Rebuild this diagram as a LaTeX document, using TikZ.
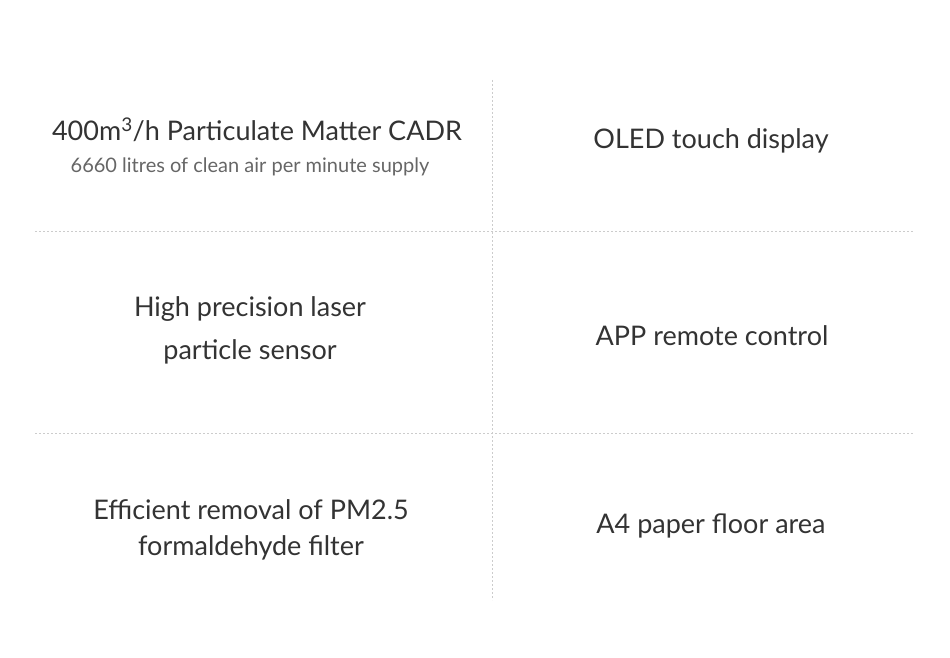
\documentclass[tikz,border=0pt]{standalone}
\usepackage{fontspec}
\setmainfont{Lato}
\begin{document}
\begin{tikzpicture}[x=1pt,y=-1pt,
  big/.style={text=black!80,font=\fontsize{27}{32}\selectfont,anchor=center,inner sep=0},
  small/.style={text=black!60,font=\fontsize{20}{24}\selectfont,anchor=center,inner sep=0},
  grid/.style={draw=black!20,dashed,dash pattern=on 2pt off 2pt,line width=0.8pt}]
\useasboundingbox (0,0) rectangle (950,658);
\coordinate (vt) at (492,80); \coordinate (vb) at (492,600);
\coordinate (h1l) at (35,231); \coordinate (h1r) at (913,231);
\coordinate (h2l) at (35,433); \coordinate (h2r) at (913,433);
\draw[grid] (vt) -- (vb);
\draw[grid] (h1l) -- (h1r);
\draw[grid] (h2l) -- (h2r);
\node[big] (a) at (257,130) {400m\textsuperscript{3}/h Particulate Matter CADR};
\node[small] (a2) at (250,167) {6660 litres of clean air per minute supply};
\node[big] (b) at (711,141) {OLED touch display};
\node[big] (c1) at (250,309) {High precision laser};
\node[big] (c2) at (250,352) {particle sensor};
\node[big] (d) at (712,336) {APP remote control};
\node[big] (e1) at (251,510) {Efficient removal of PM2.5};
\node[big] (e2) at (251,548) {formaldehyde filter};
\node[big] (f) at (711,526) {A4 paper floor area};
\end{tikzpicture}
\end{document}
